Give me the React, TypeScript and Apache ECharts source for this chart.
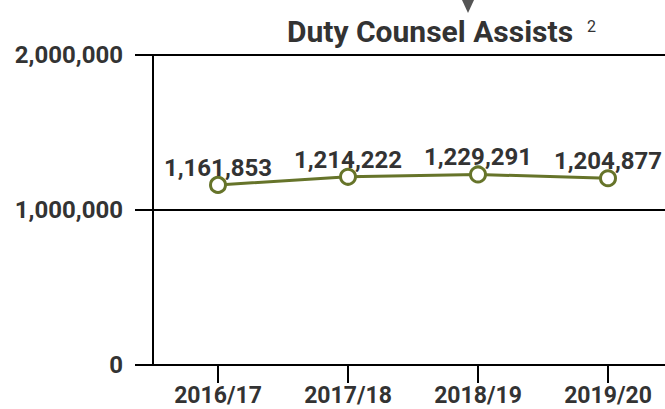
import React, { useEffect, useRef } from "react";
import * as echarts from "echarts";

const categories = ["2016/17", "2017/18", "2018/19", "2019/20"];
const assists = [1161853, 1214222, 1229291, 1204877];
const yTicks = [0, 1000000, 2000000];
const titleText = "Duty Counsel Assists";
const footnote = "2";

const FONT = "Roboto, 'Liberation Sans', sans-serif";
const TEXT = "#333333";
const OLIVE = "#66742a";

const fmt = (v: number) => v.toLocaleString("en-US");

export default function App() {
  const ref = useRef<HTMLDivElement>(null);
  useEffect(() => {
    if (!ref.current) return;
    const chart = echarts.init(ref.current, undefined, { renderer: "svg" });
    chart.setOption({
      animation: false,
      backgroundColor: "#ffffff",
      textStyle: { fontFamily: FONT },
      grid: { left: 153, right: 2, top: 55, bottom: 44, containLabel: false },
      graphic: [
        {
          type: "polygon",
          shape: { points: [[462, 0], [474, 0], [468, 13]] },
          style: { fill: "#555555" },
          z: 10,
        },
        {
          type: "text",
          x: 430,
          y: 31,
          style: {
            text: titleText,
            fontFamily: FONT,
            fontWeight: "bold",
            fontSize: 30,
            fill: TEXT,
            textAlign: "center",
            textVerticalAlign: "middle",
          },
        },
        {
          type: "text",
          x: 587,
          y: 26,
          style: {
            text: footnote,
            fontFamily: FONT,
            fontSize: 16,
            fill: TEXT,
            textAlign: "left",
            textVerticalAlign: "middle",
          },
        },
      ],
      xAxis: {
        type: "category",
        data: categories,
        boundaryGap: true,
        axisLine: { show: true, lineStyle: { color: "#000", width: 2 } },
        axisTick: { show: true, alignWithLabel: true, length: 18, lineStyle: { color: "#000", width: 2 } },
        axisLabel: {
          color: TEXT,
          fontFamily: FONT,
          fontWeight: "bold",
          fontSize: 23,
          lineHeight: 18,
          margin: 21,
        },
        splitLine: { show: false },
      },
      yAxis: {
        type: "value",
        min: 0,
        max: 2000000,
        interval: 1000000,
        axisLine: { show: true, lineStyle: { color: "#000", width: 2 } },
        axisTick: { show: true, length: 18, lineStyle: { color: "#000", width: 2 } },
        axisLabel: {
          color: TEXT,
          fontFamily: FONT,
          fontWeight: "bold",
          fontSize: 24,
          margin: 30,
          padding: [6, 0, 0, 0],
          formatter: (v: number) => (yTicks.includes(v) ? fmt(v) : ""),
        },
        splitLine: { show: true, lineStyle: { color: "#000", width: 2 } },
      },
      series: [
        {
          type: "line",
          data: assists,
          symbol: "circle",
          symbolSize: 15,
          showAllSymbol: true,
          lineStyle: { color: OLIVE, width: 3 },
          itemStyle: { color: "#ffffff", borderColor: OLIVE, borderWidth: 3 },
          label: {
            show: true,
            position: "top",
            distance: -4,
            color: TEXT,
            fontFamily: FONT,
            fontWeight: "bold",
            fontSize: 24,
            formatter: (p: any) => fmt(p.value),
          },
          z: 5,
        },
      ],
    });
    return () => chart.dispose();
  }, []);
  return (
    <div style={{ position: "absolute", left: 0, top: 0, width: 665, height: 409, overflow: "hidden", background: "#fff" }}>
      <div ref={ref} style={{ width: 675, height: 409 }} />
    </div>
  );
}
